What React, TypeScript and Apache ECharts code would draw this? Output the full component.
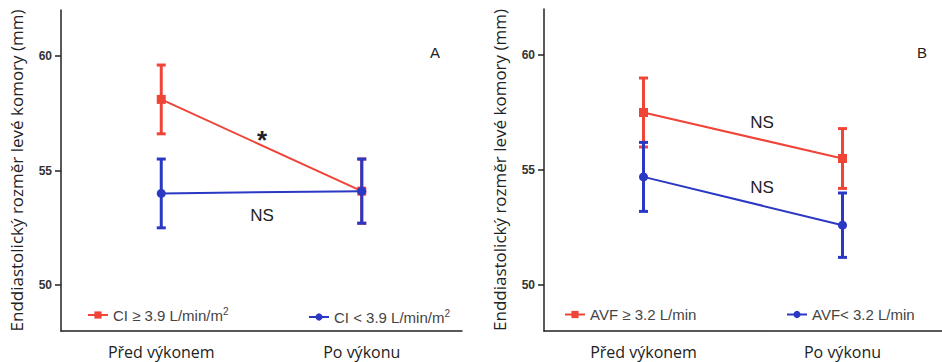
import React, { useEffect, useRef } from "react";
import * as echarts from "echarts";

const categories = ["Před výkonem", "Po výkonu"];
const yTickValues = [50, 55, 60];

// Panel A
const ciHighName = "CI ≥ 3.9 L/min/m²";
const ciHighMean = [58.1, 54.1];
const ciHighLow = [56.6, 52.7];
const ciHighHigh = [59.6, 55.5];

const ciLowName = "CI < 3.9 L/min/m²";
const ciLowMean = [54.0, 54.1];
const ciLowLow = [52.5, 52.7];
const ciLowHigh = [55.5, 55.5];

// Panel B
const avfHighName = "AVF ≥ 3.2 L/min";
const avfHighMean = [57.5, 55.5];
const avfHighLow = [56.0, 54.2];
const avfHighHigh = [59.0, 56.8];

const avfLowName = "AVF< 3.2 L/min";
const avfLowMean = [54.7, 52.6];
const avfLowLow = [53.2, 51.2];
const avfLowHigh = [56.2, 54.0];

const RED = "#f04438";
const BLUE = "#2b38c4";
const Y_NAME = "Enddiastolický rozměr levé komory (mm)";

function errorSeries(axisIndex: number, low: number[], high: number[], color: string, z: number) {
  return {
    type: "custom",
    xAxisIndex: axisIndex,
    yAxisIndex: axisIndex,
    z,
    silent: true,
    encode: { x: 0, y: [1, 2] },
    data: low.map((l, i) => [i, l, high[i]]),
    renderItem: (params: any, api: any) => {
      const lo = api.coord([api.value(0), api.value(1)]);
      const hi = api.coord([api.value(0), api.value(2)]);
      const cap = 4.5;
      const style = { stroke: color, lineWidth: 3 };
      return {
        type: "group",
        children: [
          { type: "line", shape: { x1: lo[0], y1: lo[1], x2: hi[0], y2: hi[1] }, style },
          { type: "line", shape: { x1: lo[0] - cap, y1: lo[1], x2: lo[0] + cap, y2: lo[1] }, style },
          { type: "line", shape: { x1: hi[0] - cap, y1: hi[1], x2: hi[0] + cap, y2: hi[1] }, style },
        ],
      };
    },
  };
}

function meanSeries(axisIndex: number, name: string, values: number[], color: string, symbol: string, size: number, z: number) {
  return {
    type: "line",
    name,
    xAxisIndex: axisIndex,
    yAxisIndex: axisIndex,
    z,
    data: values,
    symbol,
    symbolSize: size,
    showSymbol: true,
    itemStyle: { color },
    lineStyle: { color, width: 2 },
  };
}

function makeXAxis(gridIndex: number) {
  return {
    type: "category",
    gridIndex,
    data: categories,
    boundaryGap: true,
    axisLine: { lineStyle: { color: "#222", width: 1.5 } },
    axisTick: { alignWithLabel: true, length: 5, lineStyle: { color: "#222", width: 1.5 } },
    axisLabel: {
      color: "#222",
      fontFamily: "Open Sans",
      fontSize: 16,
      margin: 13,
    },
  };
}

function makeYAxis(gridIndex: number) {
  return {
    type: "value",
    gridIndex,
    min: 48,
    max: 62,
    name: Y_NAME,
    nameLocation: "middle",
    nameGap: 36,
    nameTextStyle: { fontFamily: "Open Sans", fontSize: 17, color: "#222" },
    splitLine: { show: false },
    axisLine: { show: true, lineStyle: { color: "#222", width: 1.5 } },
    axisTick: { show: true, length: 6, customValues: yTickValues, lineStyle: { color: "#222", width: 1.5 } },
    axisLabel: {
      customValues: yTickValues,
      color: "#333",
      fontFamily: "Liberation Sans",
      fontWeight: "bold",
      fontSize: 12,
      margin: 9,
    },
  };
}

function makeLegend(name: string, left: number, top: number) {
  return {
    data: [name],
    left,
    top,
    itemWidth: 20,
    itemHeight: 9,
    selectedMode: false,
    formatter: (n: string) => n.replace("²", "{sup|2}"),
    textStyle: {
      fontFamily: "Liberation Sans",
      fontSize: 15,
      color: "#444",
      rich: { sup: { fontFamily: "Liberation Sans", fontSize: 10, color: "#444", verticalAlign: "top", padding: [0, 0, 8, 0] } },
    },
  };
}

function annot(text: string, x: number, y: number, size: number, weight = "normal") {
  return {
    type: "text",
    x,
    y,
    style: {
      text,
      fill: "#222",
      font: `${weight} ${size}px "Liberation Sans", Arial, sans-serif`,
      textAlign: "center",
      textVerticalAlign: "middle",
    },
  };
}

export default function App() {
  const ref = useRef<HTMLDivElement>(null);
  useEffect(() => {
    document.body.style.margin = "0";
    if (!ref.current) return;
    const chart = echarts.init(ref.current, null, { renderer: "svg" });
    chart.setOption({
      animation: false,
      backgroundColor: "#ffffff",
      grid: [
        { left: 61, right: 480, top: 10, bottom: 31 },
        { left: 544, right: -13, top: 9, bottom: 31 },
      ],
      xAxis: [makeXAxis(0), makeXAxis(1)],
      yAxis: [makeYAxis(0), makeYAxis(1)],
      legend: [
        makeLegend(ciHighName, 82, 301),
        makeLegend(ciLowName, 303, 303),
        makeLegend(avfHighName, 559, 302),
        makeLegend(avfLowName, 781, 302),
      ],
      series: [
        errorSeries(0, ciHighLow, ciHighHigh, RED, 2),
        meanSeries(0, ciHighName, ciHighMean, RED, "rect", 9, 3),
        errorSeries(0, ciLowLow, ciLowHigh, BLUE, 4),
        meanSeries(0, ciLowName, ciLowMean, BLUE, "circle", 9, 5),
        errorSeries(1, avfHighLow, avfHighHigh, RED, 2),
        meanSeries(1, avfHighName, avfHighMean, RED, "rect", 9, 3),
        errorSeries(1, avfLowLow, avfLowHigh, BLUE, 4),
        meanSeries(1, avfLowName, avfLowMean, BLUE, "circle", 9, 5),
      ],
      graphic: [
        annot("A", 435, 52, 15),
        annot("*", 262, 140, 26, "bold"),
        annot("NS", 262, 215, 17),
        annot("B", 922, 52, 15),
        annot("NS", 762, 122, 17),
        annot("NS", 762, 187, 17),
      ],
    });
    return () => chart.dispose();
  }, []);
  return <div ref={ref} style={{ width: 942, height: 362 }} />;
}
